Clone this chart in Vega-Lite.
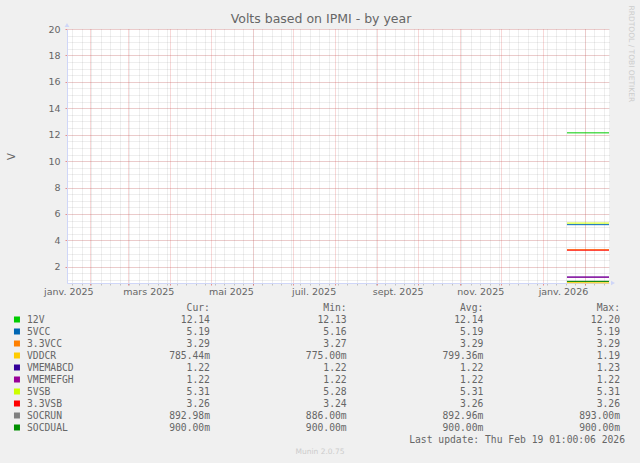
{
  "$schema": "https://vega.github.io/schema/vega-lite/v6.json",
  "background": "#F0F0F0",
  "padding": {"left": 6, "top": 5, "right": 10, "bottom": 10},
  "bounds": "flush",
  "spacing": 24.5,
  "config": {"view": {"stroke": null}, "font": "DejaVu Sans"},
  "datasets": {
    "lines": [
      {"series": "12V", "date": "2026-01-19", "value": 12.14},
      {"series": "12V", "date": "2026-02-19", "value": 12.14},
      {"series": "5VCC", "date": "2026-01-19", "value": 5.19},
      {"series": "5VCC", "date": "2026-02-19", "value": 5.19},
      {"series": "3.3VCC", "date": "2026-01-19", "value": 3.29},
      {"series": "3.3VCC", "date": "2026-02-19", "value": 3.29},
      {"series": "VDDCR", "date": "2026-01-19", "value": 0.79936},
      {"series": "VDDCR", "date": "2026-02-19", "value": 0.78544},
      {"series": "VMEMABCD", "date": "2026-01-19", "value": 1.22},
      {"series": "VMEMABCD", "date": "2026-02-19", "value": 1.22},
      {"series": "VMEMEFGH", "date": "2026-01-19", "value": 1.22},
      {"series": "VMEMEFGH", "date": "2026-02-19", "value": 1.22},
      {"series": "5VSB", "date": "2026-01-19", "value": 5.31},
      {"series": "5VSB", "date": "2026-02-19", "value": 5.31},
      {"series": "3.3VSB", "date": "2026-01-19", "value": 3.26},
      {"series": "3.3VSB", "date": "2026-02-19", "value": 3.26},
      {"series": "SOCRUN", "date": "2026-01-19", "value": 0.89296},
      {"series": "SOCRUN", "date": "2026-02-19", "value": 0.89298},
      {"series": "SOCDUAL", "date": "2026-01-19", "value": 0.9},
      {"series": "SOCDUAL", "date": "2026-02-19", "value": 0.9}
    ],
    "legend": [
      {"series": "12V", "Cur": "12.14", "Min": "12.13", "Avg": "12.14", "Max": "12.20"},
      {"series": "5VCC", "Cur": "5.19", "Min": "5.16", "Avg": "5.19", "Max": "5.19"},
      {"series": "3.3VCC", "Cur": "3.29", "Min": "3.27", "Avg": "3.29", "Max": "3.29"},
      {"series": "VDDCR", "Cur": "785.44m", "Min": "775.00m", "Avg": "799.36m", "Max": "1.19"},
      {"series": "VMEMABCD", "Cur": "1.22", "Min": "1.22", "Avg": "1.22", "Max": "1.23"},
      {"series": "VMEMEFGH", "Cur": "1.22", "Min": "1.22", "Avg": "1.22", "Max": "1.22"},
      {"series": "5VSB", "Cur": "5.31", "Min": "5.28", "Avg": "5.31", "Max": "5.31"},
      {"series": "3.3VSB", "Cur": "3.26", "Min": "3.24", "Avg": "3.26", "Max": "3.26"},
      {"series": "SOCRUN", "Cur": "892.98m", "Min": "886.00m", "Avg": "892.96m", "Max": "893.00m"},
      {"series": "SOCDUAL", "Cur": "900.00m", "Min": "900.00m", "Avg": "900.00m", "Max": "900.00m"}
    ],
    "headers": [
      {"stat": "Cur", "label": "Cur:\u00a0"},
      {"stat": "Min", "label": "Min:\u00a0"},
      {"stat": "Avg", "label": "Avg:\u00a0"},
      {"stat": "Max", "label": "Max:\u00a0"}
    ],
    "footer": [{"label": "Last update: Thu Feb 19 01:00:06 2026"}]
  },
  "vconcat": [
    {
      "width": 542,
      "height": 254,
      "view": {"fill": "#FFFFFF", "stroke": null},
      "data": {"name": "lines"},
      "resolve": {"axis": {"x": "independent", "y": "independent"}},
      "layer": [
        {
          "mark": {"type": "line", "opacity": 0},
          "encoding": {
            "x": {"field": "date", "type": "temporal",
              "scale": {"type": "utc", "domain": [{"year": 2025, "month": 1, "date": 15, "utc": true}, {"year": 2026, "month": 2, "date": 19, "utc": true}]},
              "axis": {"orient": "bottom", "tickCount": {"interval": "week", "step": 1}, "grid": true, "gridColor": "#8F8F8F", "gridOpacity": 0.3, "gridDash": [1, 1], "labels": false, "ticks": true, "tickSize": 2, "tickColor": "#8F8F8F", "tickOpacity": 0.5, "domain": false, "title": null}},
            "y": {"field": "value", "type": "quantitative",
              "scale": {"domain": [0.775, 20], "nice": false, "zero": false},
              "axis": {"orient": "right", "values": [1, 1.5, 2, 2.5, 3, 3.5, 4, 4.5, 5, 5.5, 6, 6.5, 7, 7.5, 8, 8.5, 9, 9.5, 10, 10.5, 11, 11.5, 12, 12.5, 13, 13.5, 14, 14.5, 15, 15.5, 16, 16.5, 17, 17.5, 18, 18.5, 19, 19.5, 20],
                "grid": true, "gridColor": "#8F8F8F", "gridOpacity": 0.3, "gridDash": [1, 1], "labels": false, "ticks": false, "domain": false,
                "title": "RRDTOOL / TOBI OETIKER", "titleAngle": 90, "titleX": 21, "titleY": -24, "titleAlign": "left", "titleBaseline": "middle", "titleFontSize": 7.5, "titleFontWeight": "normal", "titleColor": "#CCCCCC", "titleFont": "DejaVu Sans"}},
            "detail": {"field": "series"}
          }
        },
        {
          "mark": {"type": "line", "opacity": 0},
          "encoding": {
            "x": {"field": "date", "type": "temporal",
              "scale": {"type": "utc", "domain": [{"year": 2025, "month": 1, "date": 15, "utc": true}, {"year": 2026, "month": 2, "date": 19, "utc": true}]},
              "axis": {"orient": "bottom", "values": [
                {"year": 2025, "month": 2, "date": 1, "utc": true}, {"year": 2025, "month": 3, "date": 1, "utc": true}, {"year": 2025, "month": 4, "date": 1, "utc": true},
                {"year": 2025, "month": 5, "date": 1, "utc": true}, {"year": 2025, "month": 6, "date": 1, "utc": true}, {"year": 2025, "month": 7, "date": 1, "utc": true},
                {"year": 2025, "month": 8, "date": 1, "utc": true}, {"year": 2025, "month": 9, "date": 1, "utc": true}, {"year": 2025, "month": 10, "date": 1, "utc": true},
                {"year": 2025, "month": 11, "date": 1, "utc": true}, {"year": 2025, "month": 12, "date": 1, "utc": true}, {"year": 2026, "month": 1, "date": 1, "utc": true},
                {"year": 2026, "month": 2, "date": 1, "utc": true}],
                "grid": true, "gridColor": "#E05050", "gridOpacity": 0.45, "gridDash": [1, 1], "labels": false, "ticks": true, "tickSize": 2, "tickColor": "#E05050", "tickOpacity": 0.6, "domain": false,
                "title": "Volts based on IPMI - by year", "titleX": 253.5, "titleY": -260.5, "titleAlign": "center", "titleBaseline": "alphabetic", "titleAngle": 0,
                "titleFont": "DejaVu Sans", "titleFontSize": 12.5, "titleFontWeight": "normal", "titleColor": "#666666"}},
            "y": {"field": "value", "type": "quantitative", "scale": {"domain": [0.775, 20], "nice": false, "zero": false},
              "axis": {"orient": "left", "values": [2, 4, 6, 8, 10, 12, 14, 16, 18, 20], "grid": false, "labels": false, "domain": false, "ticks": true, "tickSize": 2, "tickColor": "#E05050", "tickOpacity": 0.6, "title": null}},
            "detail": {"field": "series"}
          }
        },
        {
          "mark": {"type": "line", "strokeWidth": 1},
          "encoding": {
            "x": {"field": "date", "type": "temporal",
              "scale": {"type": "utc", "domain": [{"year": 2025, "month": 1, "date": 15, "utc": true}, {"year": 2026, "month": 2, "date": 19, "utc": true}]},
              "axis": {"orient": "bottom", "values": [
                {"year": 2025, "month": 1, "date": 16, "utc": true}, {"year": 2025, "month": 3, "date": 16, "utc": true}, {"year": 2025, "month": 5, "date": 16, "utc": true},
                {"year": 2025, "month": 7, "date": 16, "utc": true}, {"year": 2025, "month": 9, "date": 16, "utc": true}, {"year": 2025, "month": 11, "date": 16, "utc": true},
                {"year": 2026, "month": 1, "date": 16, "utc": true}],
                "labelExpr": "['janv.','févr.','mars','avr.','mai','juin','juil.','août','sept.','oct.','nov.','déc.'][utcmonth(datum.value)] + ' ' + utcyear(datum.value)",
                "grid": false, "ticks": false, "domain": true, "domainColor": "#CFD6F8", "domainWidth": 1,
                "labelFont": "DejaVu Sans", "labelFontSize": 9.5, "labelColor": "#666666", "labelPadding": 3, "labelFlush": false, "labelOverlap": false, "labelBound": false, "title": null}},
            "y": {"field": "value", "type": "quantitative",
              "scale": {"domain": [0.775, 20], "nice": false, "zero": false},
              "axis": {"orient": "left", "values": [2, 4, 6, 8, 10, 12, 14, 16, 18, 20],
                "grid": true, "gridColor": "#E05050", "gridOpacity": 0.45, "gridDash": [1, 1], "ticks": false, "domain": true, "domainColor": "#CFD6F8", "domainWidth": 1,
                "labelFont": "DejaVu Sans", "labelFontSize": 9.5, "labelColor": "#666666", "labelPadding": 7,
                "title": "V", "titleX": -56, "titleY": 127, "titleAngle": 270, "titleAlign": "center", "titleBaseline": "middle", "titleFont": "DejaVu Sans", "titleFontSize": 10, "titleFontWeight": "normal", "titleColor": "#666666"}},
            "color": {"field": "series", "type": "nominal",
              "scale": {"domain": ["12V", "5VCC", "3.3VCC", "VDDCR", "VMEMABCD", "VMEMEFGH", "5VSB", "3.3VSB", "SOCRUN", "SOCDUAL"],
                "range": ["#00CC00", "#0066B3", "#FF8000", "#FFCC00", "#330099", "#990099", "#CCFF00", "#FF0000", "#808080", "#008F00"]},
              "legend": null}
          }
        },
        {
          "data": {"values": [{}]},
          "mark": {"type": "point", "shape": "triangle-right", "filled": true, "color": "#CFD6F8", "size": 22, "opacity": 1, "xOffset": 4},
          "encoding": {
            "x": {"datum": {"year": 2026, "month": 2, "date": 19, "utc": true}, "type": "temporal", "scale": {"type": "utc", "domain": [{"year": 2025, "month": 1, "date": 15, "utc": true}, {"year": 2026, "month": 2, "date": 19, "utc": true}]}, "axis": null},
            "y": {"datum": 0.775, "type": "quantitative", "scale": {"domain": [0.775, 20], "nice": false, "zero": false}, "axis": null}
          }
        },
        {
          "data": {"values": [{}]},
          "mark": {"type": "point", "shape": "triangle-up", "filled": true, "color": "#CFD6F8", "size": 22, "opacity": 1, "yOffset": -4},
          "encoding": {
            "x": {"datum": {"year": 2025, "month": 1, "date": 15, "utc": true}, "type": "temporal", "scale": {"type": "utc", "domain": [{"year": 2025, "month": 1, "date": 15, "utc": true}, {"year": 2026, "month": 2, "date": 19, "utc": true}]}, "axis": null},
            "y": {"datum": 20, "type": "quantitative", "scale": {"domain": [0.775, 20], "nice": false, "zero": false}, "axis": null}
          }
        }
      ]
    },
    {
      "width": 553,
      "height": 132,
      "title": {"text": "Munin 2.0.75", "orient": "bottom", "anchor": "middle", "frame": "group", "font": "DejaVu Sans", "fontSize": 7.5, "fontWeight": "normal", "color": "#CCCCCC", "baseline": "middle", "offset": 7.5, "dx": -23.5},
      "layer": [
        {
          "data": {"name": "headers"},
          "mark": {"type": "text", "font": "DejaVu Sans Mono", "fontSize": 9.7, "color": "#666666", "align": "right", "baseline": "middle"},
          "encoding": {
            "x": {"field": "stat", "type": "nominal", "scale": {"type": "point", "domain": ["Cur", "Min", "Avg", "Max"], "padding": 0.523, "align": 1}, "axis": null},
            "y": {"datum": "header", "type": "nominal", "scale": {"type": "point", "domain": ["header", "12V", "5VCC", "3.3VCC", "VDDCR", "VMEMABCD", "VMEMEFGH", "5VSB", "3.3VSB", "SOCRUN", "SOCDUAL", "update"], "padding": 0}, "axis": null},
            "text": {"field": "label"}
          }
        },
        {
          "data": {"name": "legend"},
          "transform": [{"fold": ["Cur", "Min", "Avg", "Max"], "as": ["stat", "val"]}],
          "mark": {"type": "text", "font": "DejaVu Sans Mono", "fontSize": 9.7, "color": "#666666", "align": "right", "baseline": "middle"},
          "encoding": {
            "x": {"field": "stat", "type": "nominal", "axis": null},
            "y": {"field": "series", "type": "nominal", "axis": null},
            "text": {"field": "val"}
          }
        },
        {
          "data": {"name": "legend"},
          "mark": {"type": "text", "font": "DejaVu Sans Mono", "fontSize": 9.7, "color": "#666666", "align": "left", "baseline": "middle", "dx": -183},
          "encoding": {
            "x": {"datum": "Cur", "type": "nominal", "axis": null},
            "y": {"field": "series", "type": "nominal", "axis": null},
            "text": {"field": "series"}
          }
        },
        {
          "data": {"name": "legend"},
          "mark": {"type": "square", "filled": true, "size": 36, "opacity": 1, "xOffset": -193},
          "encoding": {
            "x": {"datum": "Cur", "type": "nominal", "axis": null},
            "y": {"field": "series", "type": "nominal", "axis": null},
            "color": {"field": "series", "type": "nominal", "legend": null}
          }
        },
        {
          "data": {"name": "footer"},
          "mark": {"type": "text", "font": "DejaVu Sans Mono", "fontSize": 9.7, "color": "#666666", "align": "right", "baseline": "middle", "dx": 5},
          "encoding": {
            "x": {"datum": "Max", "type": "nominal", "axis": null},
            "y": {"datum": "update", "type": "nominal", "axis": null},
            "text": {"field": "label"}
          }
        }
      ]
    }
  ]
}
